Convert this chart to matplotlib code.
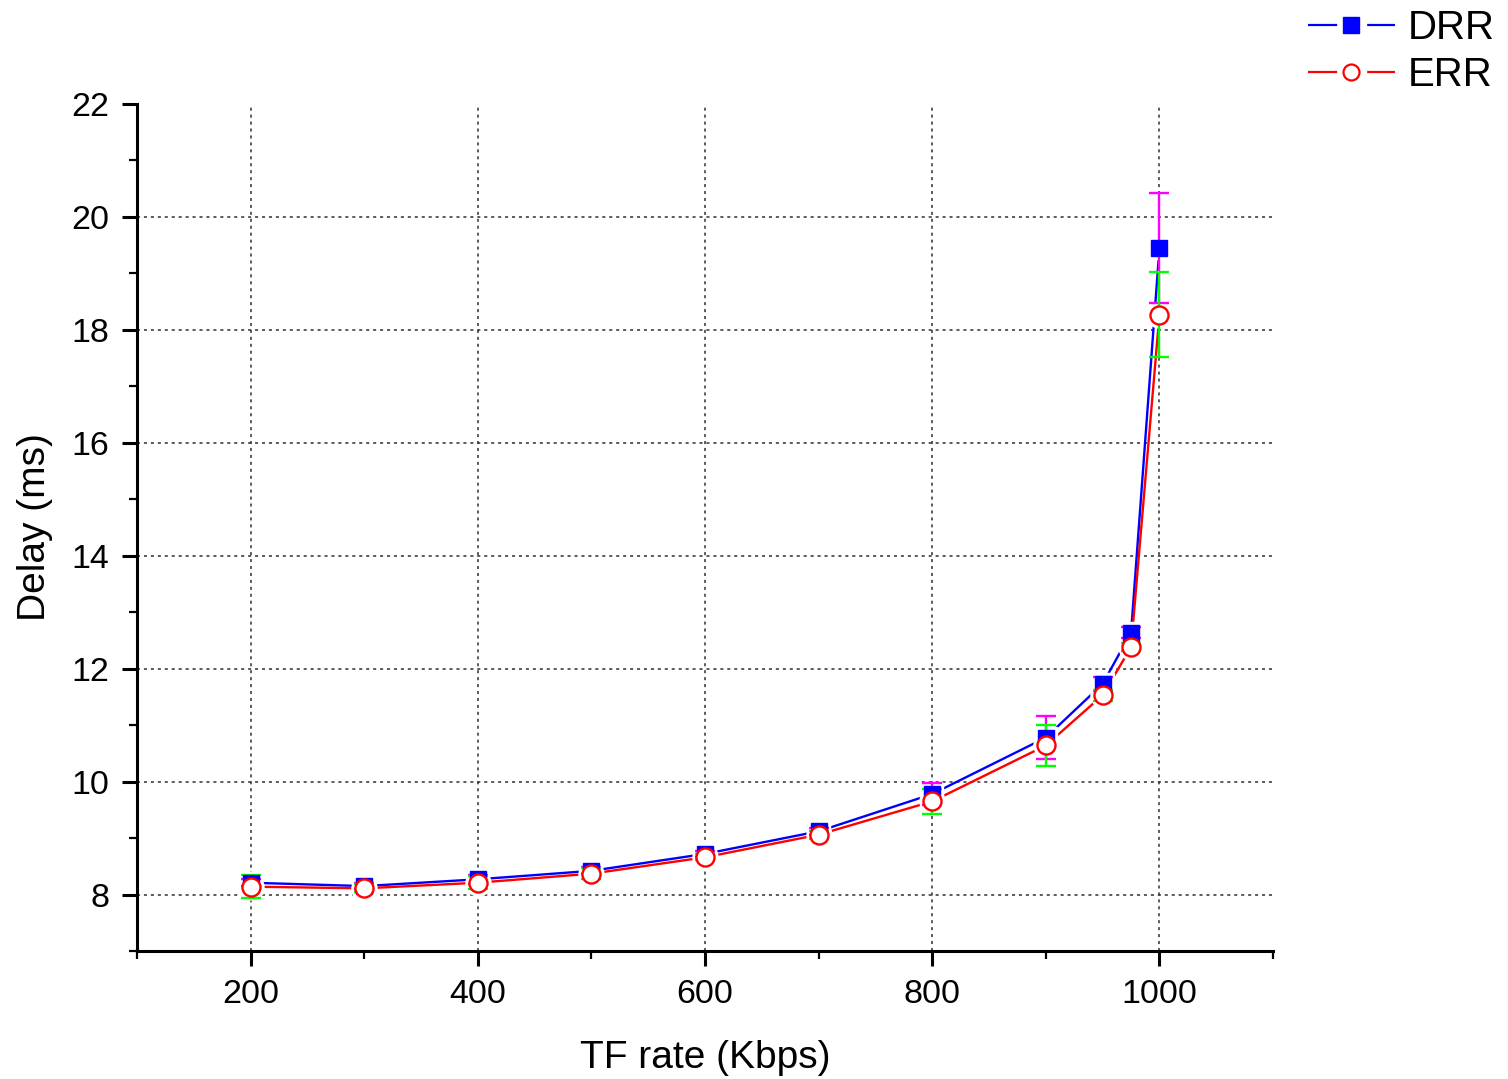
import matplotlib
matplotlib.use("Agg")
import matplotlib.pyplot as plt
from matplotlib.lines import Line2D

plt.rcParams['font.family'] = ['Liberation Sans', 'DejaVu Sans']
plt.rcParams['lines.scale_dashes'] = False

rate = [200, 300, 400, 500, 600, 700, 800, 900, 950, 975, 1000]
drr = [8.21, 8.15, 8.27, 8.42, 8.72, 9.12, 9.78, 10.78, 11.73, 12.64, 19.45]
drr_err = [0.06, 0.05, 0.08, 0.06, 0.06, 0.06, 0.20, 0.38, 0.12, 0.10, 0.97]
err = [8.14, 8.11, 8.21, 8.37, 8.66, 9.06, 9.65, 10.64, 11.53, 12.38, 18.27]
err_err = [0.20, 0.07, 0.12, 0.10, 0.05, 0.07, 0.22, 0.36, 0.10, 0.07, 0.75]

fig = plt.figure(figsize=(15.08, 10.79), dpi=100)
ax = fig.add_axes([0.0908, 0.1186, 0.7534, 0.785])

# grid
for yv in range(8, 21, 2):
    ax.axhline(yv, color='#303030', lw=1.1, ls=(0, (2.2, 2.8)), zorder=0)
for xv in range(200, 1001, 200):
    ax.axvline(xv, color='#303030', lw=1.1, ls=(0, (2.2, 2.8)), zorder=0)

ax.plot(rate, drr, color='#0000ff', lw=1.7, zorder=2)
ax.plot(rate, err, color='#ff0000', lw=1.7, zorder=2)
# halos (gap in line around markers)
ax.plot(rate, drr, ls='none', marker='s', ms=16, mfc='white', mec='white', zorder=3)
ax.plot(rate, err, ls='none', marker='o', ms=18, mfc='white', mec='white', zorder=3)

ax.errorbar(rate, drr, yerr=drr_err, fmt='none', ecolor='#ff00ff', elinewidth=1.7,
            capsize=7.5, capthick=1.7, zorder=4)
ax.errorbar(rate, err, yerr=err_err, fmt='none', ecolor='#00ff00', elinewidth=1.7,
            capsize=7.5, capthick=1.7, zorder=4)

ax.plot(rate, drr, ls='none', marker='s', ms=11, mfc='#0000ff', mec='#0000ff', zorder=5)
ax.plot(rate, err, ls='none', marker='o', ms=13, mfc='white', mec='#ff0000', mew=1.7, zorder=6)

ax.set_xlim(100, 1100)
ax.set_ylim(7, 22)
ax.set_xticks([200, 400, 600, 800, 1000])
ax.set_yticks([8, 10, 12, 14, 16, 18, 20, 22])
ax.set_xticks(range(100, 1101, 100), minor=True)
ax.set_yticks(range(7, 23), minor=True)

for s in ['top', 'right']:
    ax.spines[s].set_visible(False)
for s in ['left', 'bottom']:
    ax.spines[s].set_linewidth(2.2)
ax.tick_params(which='major', direction='out', length=11, width=2.2, labelsize=24.5, pad=9)
ax.tick_params(which='minor', direction='out', length=6, width=1.6)

ax.set_xlabel('TF rate (Kbps)', fontsize=28, labelpad=22)
ax.set_ylabel('Delay (ms)', fontsize=28, labelpad=13)

# legend
h1 = Line2D([], [], color='#0000ff', lw=1.6, ls=(0, (21, 21.6)), marker='s', ms=11,
            mfc='#0000ff', mec='#0000ff')
h2 = Line2D([], [], color='#ff0000', lw=1.6, ls=(0, (21, 21.6)), marker='o', ms=11.5,
            mfc='white', mec='#ff0000', mew=1.6)
leg = fig.legend([h1, h2], ['DRR', 'ERR'], loc='upper right', bbox_to_anchor=(0.991, 0.9915),
                 frameon=False, fontsize=29, handlelength=2.16, handletextpad=0.32,
                 labelspacing=0.23, numpoints=1, borderpad=0, borderaxespad=0)

fig.savefig('out.png', dpi=100)
